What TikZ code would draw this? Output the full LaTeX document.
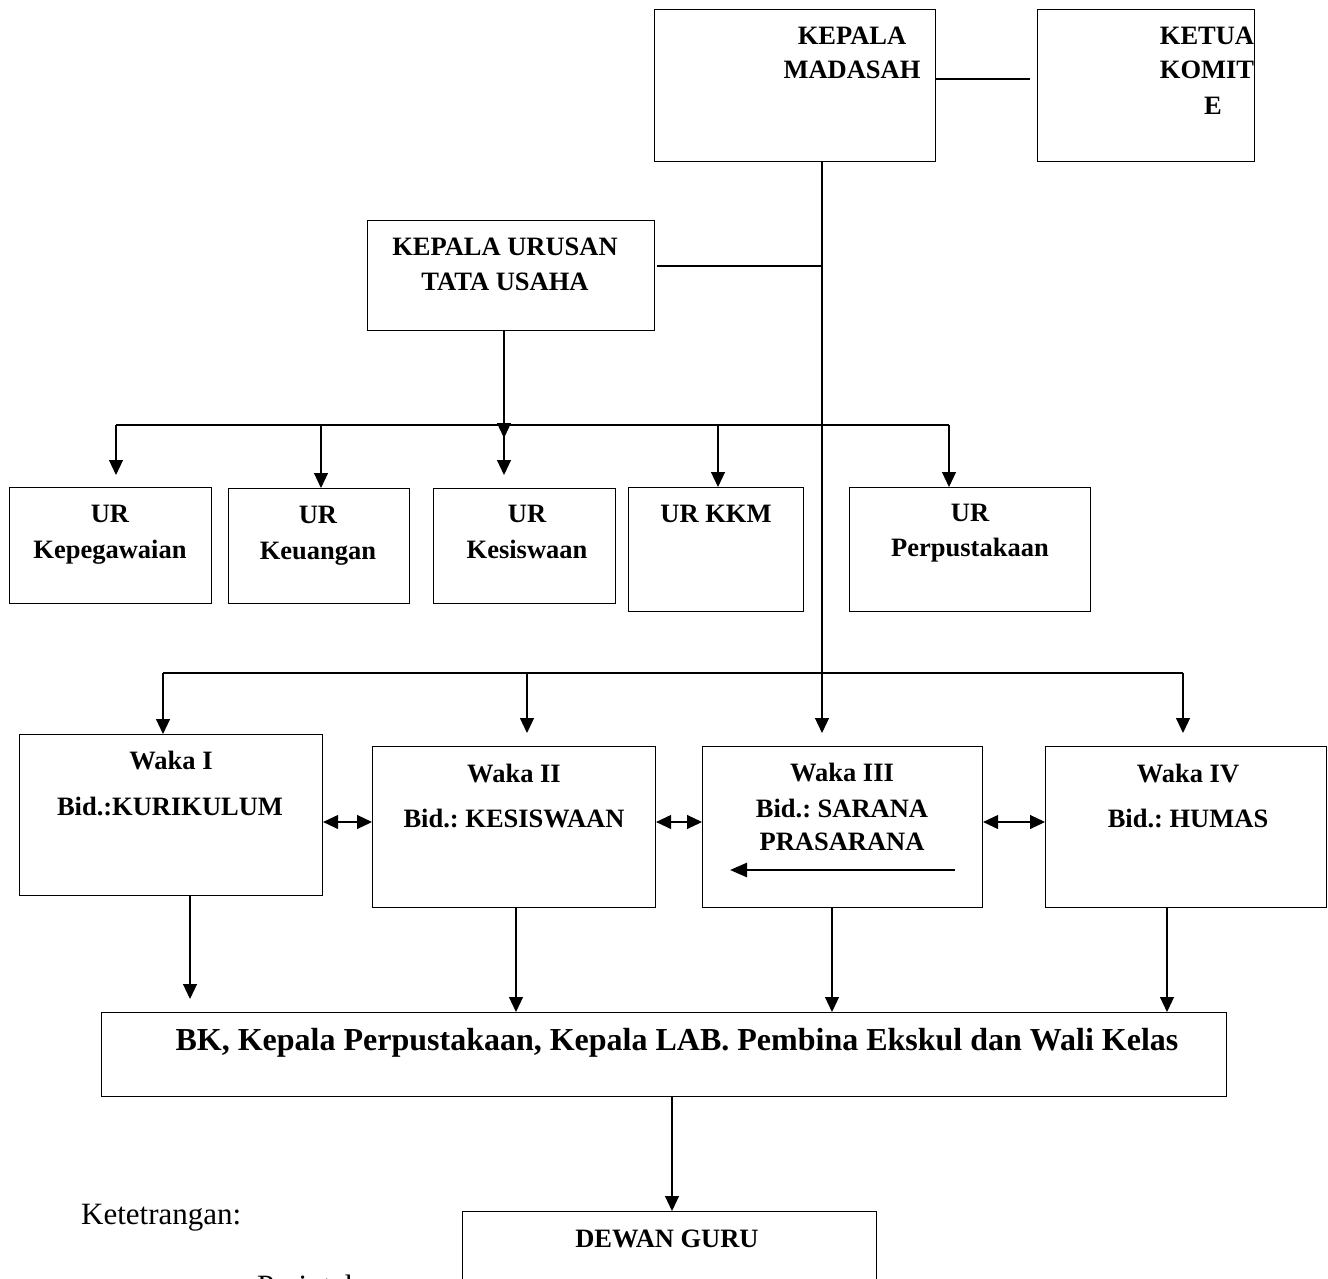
\documentclass[tikz,border=0pt]{standalone}
\usepackage{fontspec}
\setmainfont{Liberation Serif}
\usetikzlibrary{arrows.meta}
\frenchspacing
\begin{document}
\begin{tikzpicture}[x=1pt,y=-1pt,
  box/.style={draw=black,line width=1.1pt,inner sep=0pt,anchor=north west},
  lbl/.style={anchor=base,inner sep=0pt,font=\bfseries\fontsize{26.5}{30}\selectfont},
  plain/.style={anchor=base west,inner sep=0pt,font=\fontsize{31}{36}\selectfont},
  conn/.style={draw=black,line width=1.1pt},
  arr/.style={conn,-{Triangle[length=15pt,width=14pt]}},
  darr/.style={conn,{Triangle[length=15pt,width=14pt]}-{Triangle[length=15pt,width=14pt]}},
  thickarr/.style={draw=black,line width=2.6pt,-{Triangle[length=17pt,width=14pt]}}]
\useasboundingbox (0,0) rectangle (1328,1279);
\clip (0,0) rectangle (1328,1279);
\fill[white] (0,0) rectangle (1328,1279);

% boxes
\node[box,minimum width=281pt,minimum height=152pt] (kepala) at (654,9) {};
\node[box,minimum width=217pt,minimum height=152pt] (ketua) at (1037,9) {};
\node[box,minimum width=287pt,minimum height=110pt] (tu) at (367,220) {};
\node[box,minimum width=202pt,minimum height=116pt] (ur1) at (9,487) {};
\node[box,minimum width=181pt,minimum height=115pt] (ur2) at (228,488) {};
\node[box,minimum width=182pt,minimum height=115pt] (ur3) at (433,488) {};
\node[box,minimum width=175pt,minimum height=124pt] (ur4) at (628,487) {};
\node[box,minimum width=241pt,minimum height=124pt] (ur5) at (849,487) {};
\node[box,minimum width=303pt,minimum height=161pt] (waka1) at (19,734) {};
\node[box,minimum width=283pt,minimum height=161pt] (waka2) at (372,746) {};
\node[box,minimum width=280pt,minimum height=161pt] (waka3) at (702,746) {};
\node[box,minimum width=281pt,minimum height=161pt] (waka4) at (1045,746) {};
\node[box,minimum width=1125pt,minimum height=84pt] (bk) at (101,1012) {};
\node[box,minimum width=414pt,minimum height=120pt] (dg) at (462,1211) {};

% texts
\node[lbl] (t1a) at (852,45) {KEPALA};
\node[lbl] (t1b) at (852,79) {MADASAH};
\node[lbl] (t2a) at (1207,45) {KETUA};
\node[lbl] (t2b) at (1207,79) {KOMIT};
\node[lbl] (t2c) at (1213,115) {E};
\node[lbl] (t3a) at (505,255) {KEPALA URUSAN};
\node[lbl] (t3b) at (505,290) {TATA USAHA};
\node[lbl] (u1a) at (110,522) {UR};
\node[lbl] (u1b) at (110,558) {Kepegawaian};
\node[lbl] (u2a) at (318,523) {UR};
\node[lbl] (u2b) at (318,559) {Keuangan};
\node[lbl] (u3a) at (527,522) {UR};
\node[lbl] (u3b) at (527,558) {Kesiswaan};
\node[lbl] (u4a) at (716,522) {UR KKM};
\node[lbl] (u5a) at (970,521) {UR};
\node[lbl] (u5b) at (970,556) {Perpustakaan};
\node[lbl] (w1a) at (171,769) {Waka I};
\node[lbl] (w1b) at (170,815) {Bid.:KURIKULUM};
\node[lbl] (w2a) at (514,782) {Waka II};
\node[lbl] (w2b) at (514,827) {Bid.: KESISWAAN};
\node[lbl] (w3a) at (842,781) {Waka III};
\node[lbl] (w3b) at (842,817) {Bid.: SARANA};
\node[lbl] (w3c) at (842,850) {PRASARANA};
\node[lbl] (w4a) at (1188,782) {Waka IV};
\node[lbl] (w4b) at (1188,827) {Bid.: HUMAS};
\node[lbl,font=\bfseries\fontsize{32}{36}\selectfont] (bkt) at (677,1050) {BK, Kepala Perpustakaan, Kepala LAB. Pembina Ekskul dan Wali Kelas};
\node[lbl] (dgt) at (667,1247) {DEWAN GURU};
\node[plain] (ket) at (81,1224) {Ketetrangan:};
\node[plain] (per) at (257,1296) {Perintah};

% coordinates
\coordinate (kmR) at (935,79);
\coordinate (ktL) at (1030,79);
\coordinate (trunkTop) at (822,161);
\coordinate (trunkTU) at (822,266);
\coordinate (tuR) at (657,266);
\coordinate (tuB) at (504,330);
\coordinate (h1L) at (116,425);
\coordinate (h1R) at (949,425);
\coordinate (h1M) at (504,425);
\coordinate (h1Mt) at (504,438);
\coordinate (h1a) at (321,425);
\coordinate (h1b) at (718,425);
\coordinate (h2L) at (163,673);
\coordinate (h2R) at (1183,673);
\coordinate (h2b) at (527,673);

% connectors
\draw[conn] (kmR) -- (ktL);
\draw[arr] (trunkTop) -- (822,733);
\draw[conn] (tuR) -- (trunkTU);
\draw[arr] (tuB) -- (h1Mt);
\draw[conn] (h1L) -- (h1R);
\draw[arr] (h1L) -- (116,475);
\draw[arr] (h1a) -- (ur2.north -| h1a);
\draw[arr] (h1M) -- (504,475);
\draw[arr] (h1b) -- (ur4.north -| h1b);
\draw[arr] (h1R) -- (ur5.north -| h1R);
\draw[conn] (h2L) -- (h2R);
\draw[arr] (h2L) -- (waka1.north -| h2L);
\draw[arr] (h2b) -- (527,733);
\draw[arr] (h2R) -- (1183,733);
\draw[darr] (waka1.east |- 0,822) -- (waka2.west |- 0,822);
\draw[darr] (waka2.east |- 0,822) -- (waka3.west |- 0,822);
\draw[darr] (waka3.east |- 0,822) -- (waka4.west |- 0,822);
\coordinate (inA) at (955,870);
\coordinate (inB) at (730,870);
\draw[thickarr] (inA) -- (inB);
\draw[arr] (waka1.south -| 190,0) -- (190,999);
\draw[arr] (waka2.south -| 516,0) -- (bk.north -| 516,0);
\draw[arr] (waka3.south -| 832,0) -- (bk.north -| 832,0);
\draw[arr] (waka4.south -| 1167,0) -- (bk.north -| 1167,0);
\draw[arr] (bk.south -| 672,0) -- (dg.north -| 672,0);
\end{tikzpicture}
\end{document}
